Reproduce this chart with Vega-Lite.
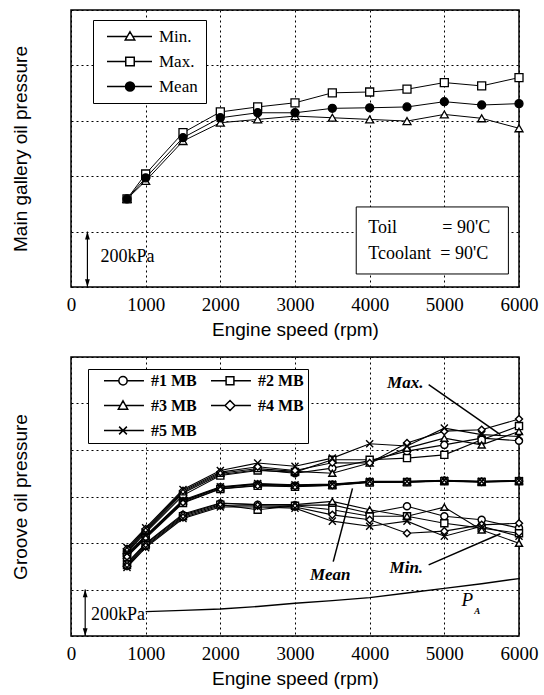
{
  "$schema": "https://vega.github.io/schema/vega-lite/v6.json",
  "padding": {"left": 10, "top": 9, "right": 3, "bottom": 3},
  "background": "white",
  "spacing": 16,
  "config": {
    "view": {"stroke": "black", "strokeWidth": 1.5},
    "axis": {"grid": true, "gridColor": "black", "gridDash": [2, 3], "gridWidth": 1, "gridOpacity": 1, "domain": false, "ticks": false, "labelColor": "black", "titleColor": "black", "titleFont": "Liberation Sans", "titleFontSize": 19, "titleFontWeight": "normal", "labelFont": "Liberation Serif", "labelFontSize": 19},
    "axisX": {"labelPadding": 8, "titlePadding": 6, "labelFlush": false, "labelOverlap": false, "format": "d"},
    "axisY": {"labels": false, "titlePadding": 41}
  },
  "datasets": {
    "top": [
      {"stat": "Min.", "rpm": 750, "p": 318}, {"stat": "Min.", "rpm": 1000, "p": 383}, {"stat": "Min.", "rpm": 1500, "p": 527}, {"stat": "Min.", "rpm": 2000, "p": 593}, {"stat": "Min.", "rpm": 2500, "p": 605}, {"stat": "Min.", "rpm": 3000, "p": 617}, {"stat": "Min.", "rpm": 3500, "p": 611}, {"stat": "Min.", "rpm": 4000, "p": 605}, {"stat": "Min.", "rpm": 4500, "p": 599}, {"stat": "Min.", "rpm": 5000, "p": 623}, {"stat": "Min.", "rpm": 5500, "p": 609}, {"stat": "Min.", "rpm": 6000, "p": 573},
      {"stat": "Max.", "rpm": 750, "p": 318}, {"stat": "Max.", "rpm": 1000, "p": 408}, {"stat": "Max.", "rpm": 1500, "p": 557}, {"stat": "Max.", "rpm": 2000, "p": 632}, {"stat": "Max.", "rpm": 2500, "p": 650}, {"stat": "Max.", "rpm": 3000, "p": 665}, {"stat": "Max.", "rpm": 3500, "p": 701}, {"stat": "Max.", "rpm": 4000, "p": 704}, {"stat": "Max.", "rpm": 4500, "p": 714}, {"stat": "Max.", "rpm": 5000, "p": 738}, {"stat": "Max.", "rpm": 5500, "p": 726}, {"stat": "Max.", "rpm": 6000, "p": 756},
      {"stat": "Mean", "rpm": 750, "p": 318}, {"stat": "Mean", "rpm": 1000, "p": 394}, {"stat": "Mean", "rpm": 1500, "p": 539}, {"stat": "Mean", "rpm": 2000, "p": 611}, {"stat": "Mean", "rpm": 2500, "p": 629}, {"stat": "Mean", "rpm": 3000, "p": 629}, {"stat": "Mean", "rpm": 3500, "p": 645}, {"stat": "Mean", "rpm": 4000, "p": 647}, {"stat": "Mean", "rpm": 4500, "p": 650}, {"stat": "Mean", "rpm": 5000, "p": 669}, {"stat": "Mean", "rpm": 5500, "p": 657}, {"stat": "Mean", "rpm": 6000, "p": 662}
    ],
    "bot": [
      {"mb": "#1 MB", "stat": "Max", "rpm": 750, "p": 365}, {"mb": "#1 MB", "stat": "Max", "rpm": 1000, "p": 450}, {"mb": "#1 MB", "stat": "Max", "rpm": 1500, "p": 615}, {"mb": "#1 MB", "stat": "Max", "rpm": 2000, "p": 695}, {"mb": "#1 MB", "stat": "Max", "rpm": 2500, "p": 715}, {"mb": "#1 MB", "stat": "Max", "rpm": 3000, "p": 700}, {"mb": "#1 MB", "stat": "Max", "rpm": 3500, "p": 722}, {"mb": "#1 MB", "stat": "Max", "rpm": 4000, "p": 755}, {"mb": "#1 MB", "stat": "Max", "rpm": 4500, "p": 795}, {"mb": "#1 MB", "stat": "Max", "rpm": 5000, "p": 822}, {"mb": "#1 MB", "stat": "Max", "rpm": 5500, "p": 851}, {"mb": "#1 MB", "stat": "Max", "rpm": 6000, "p": 840},
      {"mb": "#2 MB", "stat": "Max", "rpm": 750, "p": 360}, {"mb": "#2 MB", "stat": "Max", "rpm": 1000, "p": 445}, {"mb": "#2 MB", "stat": "Max", "rpm": 1500, "p": 605}, {"mb": "#2 MB", "stat": "Max", "rpm": 2000, "p": 690}, {"mb": "#2 MB", "stat": "Max", "rpm": 2500, "p": 712}, {"mb": "#2 MB", "stat": "Max", "rpm": 3000, "p": 705}, {"mb": "#2 MB", "stat": "Max", "rpm": 3500, "p": 758}, {"mb": "#2 MB", "stat": "Max", "rpm": 4000, "p": 758}, {"mb": "#2 MB", "stat": "Max", "rpm": 4500, "p": 765}, {"mb": "#2 MB", "stat": "Max", "rpm": 5000, "p": 779}, {"mb": "#2 MB", "stat": "Max", "rpm": 5500, "p": 844}, {"mb": "#2 MB", "stat": "Max", "rpm": 6000, "p": 903},
      {"mb": "#3 MB", "stat": "Max", "rpm": 750, "p": 370}, {"mb": "#3 MB", "stat": "Max", "rpm": 1000, "p": 455}, {"mb": "#3 MB", "stat": "Max", "rpm": 1500, "p": 620}, {"mb": "#3 MB", "stat": "Max", "rpm": 2000, "p": 700}, {"mb": "#3 MB", "stat": "Max", "rpm": 2500, "p": 720}, {"mb": "#3 MB", "stat": "Max", "rpm": 3000, "p": 708}, {"mb": "#3 MB", "stat": "Max", "rpm": 3500, "p": 700}, {"mb": "#3 MB", "stat": "Max", "rpm": 4000, "p": 744}, {"mb": "#3 MB", "stat": "Max", "rpm": 4500, "p": 808}, {"mb": "#3 MB", "stat": "Max", "rpm": 5000, "p": 851}, {"mb": "#3 MB", "stat": "Max", "rpm": 5500, "p": 822}, {"mb": "#3 MB", "stat": "Max", "rpm": 6000, "p": 880},
      {"mb": "#4 MB", "stat": "Max", "rpm": 750, "p": 375}, {"mb": "#4 MB", "stat": "Max", "rpm": 1000, "p": 460}, {"mb": "#4 MB", "stat": "Max", "rpm": 1500, "p": 625}, {"mb": "#4 MB", "stat": "Max", "rpm": 2000, "p": 705}, {"mb": "#4 MB", "stat": "Max", "rpm": 2500, "p": 728}, {"mb": "#4 MB", "stat": "Max", "rpm": 3000, "p": 712}, {"mb": "#4 MB", "stat": "Max", "rpm": 3500, "p": 745}, {"mb": "#4 MB", "stat": "Max", "rpm": 4000, "p": 744}, {"mb": "#4 MB", "stat": "Max", "rpm": 4500, "p": 830}, {"mb": "#4 MB", "stat": "Max", "rpm": 5000, "p": 881}, {"mb": "#4 MB", "stat": "Max", "rpm": 5500, "p": 887}, {"mb": "#4 MB", "stat": "Max", "rpm": 6000, "p": 933},
      {"mb": "#5 MB", "stat": "Max", "rpm": 750, "p": 380}, {"mb": "#5 MB", "stat": "Max", "rpm": 1000, "p": 465}, {"mb": "#5 MB", "stat": "Max", "rpm": 1500, "p": 630}, {"mb": "#5 MB", "stat": "Max", "rpm": 2000, "p": 712}, {"mb": "#5 MB", "stat": "Max", "rpm": 2500, "p": 744}, {"mb": "#5 MB", "stat": "Max", "rpm": 3000, "p": 730}, {"mb": "#5 MB", "stat": "Max", "rpm": 3500, "p": 765}, {"mb": "#5 MB", "stat": "Max", "rpm": 4000, "p": 827}, {"mb": "#5 MB", "stat": "Max", "rpm": 4500, "p": 817}, {"mb": "#5 MB", "stat": "Max", "rpm": 5000, "p": 894}, {"mb": "#5 MB", "stat": "Max", "rpm": 5500, "p": 866}, {"mb": "#5 MB", "stat": "Max", "rpm": 6000, "p": 858},
      {"mb": "#1 MB", "stat": "Mean", "rpm": 750, "p": 350}, {"mb": "#1 MB", "stat": "Mean", "rpm": 1000, "p": 428}, {"mb": "#1 MB", "stat": "Mean", "rpm": 1500, "p": 580}, {"mb": "#1 MB", "stat": "Mean", "rpm": 2000, "p": 640}, {"mb": "#1 MB", "stat": "Mean", "rpm": 2500, "p": 652}, {"mb": "#1 MB", "stat": "Mean", "rpm": 3000, "p": 646}, {"mb": "#1 MB", "stat": "Mean", "rpm": 3500, "p": 652}, {"mb": "#1 MB", "stat": "Mean", "rpm": 4000, "p": 663}, {"mb": "#1 MB", "stat": "Mean", "rpm": 4500, "p": 664}, {"mb": "#1 MB", "stat": "Mean", "rpm": 5000, "p": 669}, {"mb": "#1 MB", "stat": "Mean", "rpm": 5500, "p": 664}, {"mb": "#1 MB", "stat": "Mean", "rpm": 6000, "p": 668},
      {"mb": "#2 MB", "stat": "Mean", "rpm": 750, "p": 340}, {"mb": "#2 MB", "stat": "Mean", "rpm": 1000, "p": 420}, {"mb": "#2 MB", "stat": "Mean", "rpm": 1500, "p": 572}, {"mb": "#2 MB", "stat": "Mean", "rpm": 2000, "p": 632}, {"mb": "#2 MB", "stat": "Mean", "rpm": 2500, "p": 646}, {"mb": "#2 MB", "stat": "Mean", "rpm": 3000, "p": 642}, {"mb": "#2 MB", "stat": "Mean", "rpm": 3500, "p": 648}, {"mb": "#2 MB", "stat": "Mean", "rpm": 4000, "p": 660}, {"mb": "#2 MB", "stat": "Mean", "rpm": 4500, "p": 661}, {"mb": "#2 MB", "stat": "Mean", "rpm": 5000, "p": 666}, {"mb": "#2 MB", "stat": "Mean", "rpm": 5500, "p": 662}, {"mb": "#2 MB", "stat": "Mean", "rpm": 6000, "p": 666},
      {"mb": "#3 MB", "stat": "Mean", "rpm": 750, "p": 348}, {"mb": "#3 MB", "stat": "Mean", "rpm": 1000, "p": 426}, {"mb": "#3 MB", "stat": "Mean", "rpm": 1500, "p": 582}, {"mb": "#3 MB", "stat": "Mean", "rpm": 2000, "p": 638}, {"mb": "#3 MB", "stat": "Mean", "rpm": 2500, "p": 654}, {"mb": "#3 MB", "stat": "Mean", "rpm": 3000, "p": 648}, {"mb": "#3 MB", "stat": "Mean", "rpm": 3500, "p": 650}, {"mb": "#3 MB", "stat": "Mean", "rpm": 4000, "p": 664}, {"mb": "#3 MB", "stat": "Mean", "rpm": 4500, "p": 662}, {"mb": "#3 MB", "stat": "Mean", "rpm": 5000, "p": 668}, {"mb": "#3 MB", "stat": "Mean", "rpm": 5500, "p": 664}, {"mb": "#3 MB", "stat": "Mean", "rpm": 6000, "p": 668},
      {"mb": "#4 MB", "stat": "Mean", "rpm": 750, "p": 342}, {"mb": "#4 MB", "stat": "Mean", "rpm": 1000, "p": 424}, {"mb": "#4 MB", "stat": "Mean", "rpm": 1500, "p": 575}, {"mb": "#4 MB", "stat": "Mean", "rpm": 2000, "p": 634}, {"mb": "#4 MB", "stat": "Mean", "rpm": 2500, "p": 648}, {"mb": "#4 MB", "stat": "Mean", "rpm": 3000, "p": 644}, {"mb": "#4 MB", "stat": "Mean", "rpm": 3500, "p": 649}, {"mb": "#4 MB", "stat": "Mean", "rpm": 4000, "p": 661}, {"mb": "#4 MB", "stat": "Mean", "rpm": 4500, "p": 663}, {"mb": "#4 MB", "stat": "Mean", "rpm": 5000, "p": 667}, {"mb": "#4 MB", "stat": "Mean", "rpm": 5500, "p": 663}, {"mb": "#4 MB", "stat": "Mean", "rpm": 6000, "p": 666},
      {"mb": "#5 MB", "stat": "Mean", "rpm": 750, "p": 355}, {"mb": "#5 MB", "stat": "Mean", "rpm": 1000, "p": 432}, {"mb": "#5 MB", "stat": "Mean", "rpm": 1500, "p": 585}, {"mb": "#5 MB", "stat": "Mean", "rpm": 2000, "p": 642}, {"mb": "#5 MB", "stat": "Mean", "rpm": 2500, "p": 656}, {"mb": "#5 MB", "stat": "Mean", "rpm": 3000, "p": 650}, {"mb": "#5 MB", "stat": "Mean", "rpm": 3500, "p": 654}, {"mb": "#5 MB", "stat": "Mean", "rpm": 4000, "p": 665}, {"mb": "#5 MB", "stat": "Mean", "rpm": 4500, "p": 665}, {"mb": "#5 MB", "stat": "Mean", "rpm": 5000, "p": 670}, {"mb": "#5 MB", "stat": "Mean", "rpm": 5500, "p": 665}, {"mb": "#5 MB", "stat": "Mean", "rpm": 6000, "p": 669},
      {"mb": "#1 MB", "stat": "Min", "rpm": 750, "p": 310}, {"mb": "#1 MB", "stat": "Min", "rpm": 1000, "p": 395}, {"mb": "#1 MB", "stat": "Min", "rpm": 1500, "p": 520}, {"mb": "#1 MB", "stat": "Min", "rpm": 2000, "p": 570}, {"mb": "#1 MB", "stat": "Min", "rpm": 2500, "p": 565}, {"mb": "#1 MB", "stat": "Min", "rpm": 3000, "p": 562}, {"mb": "#1 MB", "stat": "Min", "rpm": 3500, "p": 564}, {"mb": "#1 MB", "stat": "Min", "rpm": 4000, "p": 528}, {"mb": "#1 MB", "stat": "Min", "rpm": 4500, "p": 558}, {"mb": "#1 MB", "stat": "Min", "rpm": 5000, "p": 515}, {"mb": "#1 MB", "stat": "Min", "rpm": 5500, "p": 500}, {"mb": "#1 MB", "stat": "Min", "rpm": 6000, "p": 464},
      {"mb": "#2 MB", "stat": "Min", "rpm": 750, "p": 305}, {"mb": "#2 MB", "stat": "Min", "rpm": 1000, "p": 390}, {"mb": "#2 MB", "stat": "Min", "rpm": 1500, "p": 515}, {"mb": "#2 MB", "stat": "Min", "rpm": 2000, "p": 565}, {"mb": "#2 MB", "stat": "Min", "rpm": 2500, "p": 543}, {"mb": "#2 MB", "stat": "Min", "rpm": 3000, "p": 560}, {"mb": "#2 MB", "stat": "Min", "rpm": 3500, "p": 543}, {"mb": "#2 MB", "stat": "Min", "rpm": 4000, "p": 515}, {"mb": "#2 MB", "stat": "Min", "rpm": 4500, "p": 515}, {"mb": "#2 MB", "stat": "Min", "rpm": 5000, "p": 485}, {"mb": "#2 MB", "stat": "Min", "rpm": 5500, "p": 464}, {"mb": "#2 MB", "stat": "Min", "rpm": 6000, "p": 442},
      {"mb": "#3 MB", "stat": "Min", "rpm": 750, "p": 315}, {"mb": "#3 MB", "stat": "Min", "rpm": 1000, "p": 398}, {"mb": "#3 MB", "stat": "Min", "rpm": 1500, "p": 525}, {"mb": "#3 MB", "stat": "Min", "rpm": 2000, "p": 572}, {"mb": "#3 MB", "stat": "Min", "rpm": 2500, "p": 565}, {"mb": "#3 MB", "stat": "Min", "rpm": 3000, "p": 565}, {"mb": "#3 MB", "stat": "Min", "rpm": 3500, "p": 579}, {"mb": "#3 MB", "stat": "Min", "rpm": 4000, "p": 543}, {"mb": "#3 MB", "stat": "Min", "rpm": 4500, "p": 515}, {"mb": "#3 MB", "stat": "Min", "rpm": 5000, "p": 554}, {"mb": "#3 MB", "stat": "Min", "rpm": 5500, "p": 456}, {"mb": "#3 MB", "stat": "Min", "rpm": 6000, "p": 399},
      {"mb": "#4 MB", "stat": "Min", "rpm": 750, "p": 300}, {"mb": "#4 MB", "stat": "Min", "rpm": 1000, "p": 385}, {"mb": "#4 MB", "stat": "Min", "rpm": 1500, "p": 510}, {"mb": "#4 MB", "stat": "Min", "rpm": 2000, "p": 560}, {"mb": "#4 MB", "stat": "Min", "rpm": 2500, "p": 560}, {"mb": "#4 MB", "stat": "Min", "rpm": 3000, "p": 555}, {"mb": "#4 MB", "stat": "Min", "rpm": 3500, "p": 521}, {"mb": "#4 MB", "stat": "Min", "rpm": 4000, "p": 500}, {"mb": "#4 MB", "stat": "Min", "rpm": 4500, "p": 442}, {"mb": "#4 MB", "stat": "Min", "rpm": 5000, "p": 451}, {"mb": "#4 MB", "stat": "Min", "rpm": 5500, "p": 478}, {"mb": "#4 MB", "stat": "Min", "rpm": 6000, "p": 485},
      {"mb": "#5 MB", "stat": "Min", "rpm": 750, "p": 295}, {"mb": "#5 MB", "stat": "Min", "rpm": 1000, "p": 380}, {"mb": "#5 MB", "stat": "Min", "rpm": 1500, "p": 505}, {"mb": "#5 MB", "stat": "Min", "rpm": 2000, "p": 555}, {"mb": "#5 MB", "stat": "Min", "rpm": 2500, "p": 555}, {"mb": "#5 MB", "stat": "Min", "rpm": 3000, "p": 550}, {"mb": "#5 MB", "stat": "Min", "rpm": 3500, "p": 494}, {"mb": "#5 MB", "stat": "Min", "rpm": 4000, "p": 472}, {"mb": "#5 MB", "stat": "Min", "rpm": 4500, "p": 494}, {"mb": "#5 MB", "stat": "Min", "rpm": 5000, "p": 429}, {"mb": "#5 MB", "stat": "Min", "rpm": 5500, "p": 472}, {"mb": "#5 MB", "stat": "Min", "rpm": 6000, "p": 429}
    ],
    "arrowTop": [{"rpm": 220, "p": 0, "p2": 200}],
    "arrowBot": [{"rpm": 190, "p": 0, "p2": 200}],
    "kpaTop": [{"rpm": 757, "p": 108, "label": "200kPa"}],
    "kpaBot": [{"rpm": 630, "p": 89, "label": "200kPa"}],
    "boxTop": [{"rpm": 3820, "rpm2": 5858, "p": 47, "p2": 289}],
    "boxText": [
      {"rpm": 3981, "p": 214, "label": "Toil"}, {"rpm": 4973, "p": 214, "label": "= 90'C"},
      {"rpm": 3981, "p": 118, "label": "Tcoolant"}, {"rpm": 4946, "p": 118, "label": "= 90'C"}
    ],
    "pa": [
      {"rpm": 1000, "p": 105}, {"rpm": 1500, "p": 110}, {"rpm": 2000, "p": 116}, {"rpm": 2500, "p": 127}, {"rpm": 3000, "p": 141}, {"rpm": 3500, "p": 152}, {"rpm": 4000, "p": 165}, {"rpm": 4500, "p": 185}, {"rpm": 5000, "p": 205}, {"rpm": 5500, "p": 225}, {"rpm": 6000, "p": 247}
    ],
    "paP": [{"rpm": 5308, "p": 155, "label": "P"}],
    "paA": [{"rpm": 5442, "p": 106, "label": "A"}],
    "notes": [
      {"rpm": 4477, "p": 1088, "label": "Max."}, {"rpm": 3472, "p": 263, "label": "Mean"}, {"rpm": 4491, "p": 292, "label": "Min."}
    ],
    "pointers": [
      {"rpm": 4790, "p": 1081, "rpm2": 5751, "p2": 866},
      {"rpm": 3512, "p": 320, "rpm2": 3770, "p2": 635},
      {"rpm": 4790, "p": 306, "rpm2": 5751, "p2": 440}
    ]
  },
  "vconcat": [
    {
      "width": 448,
      "height": 277,
      "encoding": {
        "x": {"field": "rpm", "type": "quantitative", "scale": {"domain": [0, 6000]}, "axis": {"values": [0, 1000, 2000, 3000, 4000, 5000, 6000]}, "title": "Engine speed (rpm)"},
        "y": {"field": "p", "type": "quantitative", "scale": {"domain": [0, 1000]}, "axis": {"values": [0, 200, 400, 600, 800, 1000]}, "title": "Main gallery oil pressure"}
      },
      "resolve": {"scale": {"shape": "independent", "fill": "independent"}},
      "layer": [
        {"data": {"name": "arrowTop"}, "mark": {"type": "rule", "color": "black", "strokeWidth": 1.2}, "encoding": {"y2": {"field": "p2"}}},
        {"data": {"name": "arrowTop"}, "mark": {"type": "point", "shape": "M0,0L-0.8,2.6L0.8,2.6Z", "filled": true, "color": "black", "size": 36, "opacity": 1}, "encoding": {"y": {"field": "p2", "type": "quantitative"}}},
        {"data": {"name": "arrowTop"}, "mark": {"type": "point", "shape": "M0,0L-0.8,-2.6L0.8,-2.6Z", "filled": true, "color": "black", "size": 36, "opacity": 1}},
        {"data": {"name": "kpaTop"}, "mark": {"type": "text", "font": "Liberation Serif", "fontSize": 18, "color": "black"}, "encoding": {"text": {"field": "label"}}},
        {"data": {"name": "boxTop"}, "mark": {"type": "rect", "fill": "white", "stroke": "black", "strokeWidth": 1}, "encoding": {"x2": {"field": "rpm2"}, "y2": {"field": "p2"}}},
        {"data": {"name": "boxText"}, "mark": {"type": "text", "align": "left", "font": "Liberation Serif", "fontSize": 18, "color": "black"}, "encoding": {"text": {"field": "label"}}},
        {"data": {"name": "top"}, "mark": {"type": "line", "color": "black", "strokeWidth": 1}, "encoding": {"detail": {"field": "stat"}}},
        {"data": {"name": "top"}, "mark": {"type": "point", "stroke": "black", "strokeWidth": 1.3, "size": 64, "opacity": 1},
          "encoding": {
            "shape": {"field": "stat", "scale": {"domain": ["Min.", "Max.", "Mean"], "range": ["triangle-up", "square", "circle"]}, "legend": null},
            "fill": {"field": "stat", "scale": {"domain": ["Min.", "Max.", "Mean"], "range": ["white", "white", "black"]}, "legend": null}
          }},
        {"data": {"name": "top"}, "mark": {"type": "point", "filled": false, "stroke": "black", "strokeWidth": 1.2, "opacity": 0},
          "encoding": {
            "shape": {"field": "stat", "scale": {"domain": ["Min.", "Max.", "Mean"], "range": [
              "M-0.8,0H0.01M0.23,0H1M0.12,-0.19L0.31,0.14L-0.07,0.14Z",
              "M-0.8,0H-0.05M0.29,0H1M-0.05,-0.17H0.29V0.17H-0.05Z",
              "M-0.8,0H1M0.3,0A0.18,0.18 0 1,0 -0.06,0A0.18,0.18 0 1,0 0.3,0M0.26,0A0.14,0.14 0 1,0 -0.02,0A0.14,0.14 0 1,0 0.26,0M0.22,0A0.1,0.1 0 1,0 0.02,0A0.1,0.1 0 1,0 0.22,0M0.18,0A0.06,0.06 0 1,0 0.06,0A0.06,0.06 0 1,0 0.18,0M0.14,0A0.02,0.02 0 1,0 0.1,0A0.02,0.02 0 1,0 0.14,0"
            ]},
              "legend": {"title": null, "orient": "none", "legendX": 22, "legendY": 10, "strokeColor": "black", "fillColor": "white", "padding": 8, "symbolSize": 2500, "clipHeight": 17, "rowPadding": 7, "labelFont": "Liberation Serif", "labelFontSize": 17, "labelOffset": 6, "labelColor": "black", "symbolOpacity": 1}}
          }}
      ]
    },
    {
      "width": 448,
      "height": 279,
      "encoding": {
        "x": {"field": "rpm", "type": "quantitative", "scale": {"domain": [0, 6000]}, "axis": {"values": [0, 1000, 2000, 3000, 4000, 5000, 6000]}, "title": "Engine speed (rpm)"},
        "y": {"field": "p", "type": "quantitative", "scale": {"domain": [0, 1200]}, "axis": {"values": [0, 200, 400, 600, 800, 1000, 1200]}, "title": "Groove oil pressure"}
      },
      "resolve": {"scale": {"shape": "independent"}},
      "layer": [
        {"data": {"name": "arrowBot"}, "mark": {"type": "rule", "color": "black", "strokeWidth": 1.2}, "encoding": {"y2": {"field": "p2"}}},
        {"data": {"name": "arrowBot"}, "mark": {"type": "point", "shape": "M0,0L-0.8,2.6L0.8,2.6Z", "filled": true, "color": "black", "size": 36, "opacity": 1}, "encoding": {"y": {"field": "p2", "type": "quantitative"}}},
        {"data": {"name": "arrowBot"}, "mark": {"type": "point", "shape": "M0,0L-0.8,-2.6L0.8,-2.6Z", "filled": true, "color": "black", "size": 36, "opacity": 1}},
        {"data": {"name": "pa"}, "mark": {"type": "line", "color": "black", "strokeWidth": 1.4}, "encoding": {}},
        {"data": {"name": "kpaBot"}, "mark": {"type": "text", "font": "Liberation Serif", "fontSize": 18, "color": "black"}, "encoding": {"text": {"field": "label"}}},
        {"data": {"name": "paP"}, "mark": {"type": "text", "font": "Liberation Serif", "fontStyle": "italic", "fontSize": 19, "color": "black"}, "encoding": {"text": {"field": "label"}}},
        {"data": {"name": "paA"}, "mark": {"type": "text", "font": "Liberation Serif", "fontStyle": "italic", "fontWeight": "bold", "fontSize": 9, "color": "black"}, "encoding": {"text": {"field": "label"}}},
        {"data": {"name": "bot"}, "mark": {"type": "line", "color": "black", "strokeWidth": 1.1}, "encoding": {"detail": [{"field": "mb"}, {"field": "stat"}]}},
        {"data": {"name": "bot"}, "mark": {"type": "point", "stroke": "black", "fill": "white", "filled": true, "strokeWidth": 1.4, "size": 50, "opacity": 1},
          "encoding": {
            "shape": {"field": "mb", "scale": {"domain": ["#1 MB", "#2 MB", "#3 MB", "#4 MB", "#5 MB"], "range": ["circle", "square", "triangle-up", "diamond", "M-1,-1L1,1M-1,1L1,-1"]}, "legend": null}
          }},
        {"data": {"name": "bot"}, "mark": {"type": "point", "filled": false, "stroke": "black", "strokeWidth": 1.3, "opacity": 0},
          "encoding": {
            "shape": {"field": "mb", "scale": {"domain": ["#1 MB", "#3 MB", "#5 MB", "#2 MB", "#4 MB"], "range": [
              "M-0.577,0H-0.006M0.314,0H0.96M0.314,0A0.16,0.16 0 1,0 -0.006,0A0.16,0.16 0 1,0 0.314,0",
              "M-0.577,0H0.053M0.255,0H0.96M0.154,-0.18L0.334,0.14L-0.026,0.14Z",
              "M-0.577,0H0.96M0.004,-0.15L0.304,0.15M0.004,0.15L0.304,-0.15",
              "M-0.577,0H0.004M0.304,0H0.96M0.004,-0.15H0.304V0.15H0.004Z",
              "M-0.577,0H-0.036M0.344,0H0.96M0.154,-0.19L0.344,0L0.154,0.19L-0.036,0Z"
            ]},
              "legend": {"title": null, "orient": "none", "legendX": 17, "legendY": 12, "columns": 2, "columnPadding": 2, "strokeColor": "black", "fillColor": "white", "padding": 4, "symbolSize": 2704, "clipHeight": 15, "rowPadding": 8, "labelFont": "Liberation Serif", "labelFontSize": 16, "labelFontWeight": "bold", "labelOffset": 5, "labelColor": "black", "symbolOpacity": 1}}
          }},
        {"data": {"name": "pointers"}, "mark": {"type": "rule", "color": "black", "strokeWidth": 1.5}, "encoding": {"x2": {"field": "rpm2"}, "y2": {"field": "p2"}}},
        {"data": {"name": "notes"}, "mark": {"type": "text", "font": "Liberation Serif", "fontStyle": "italic", "fontWeight": "bold", "fontSize": 17, "color": "black"}, "encoding": {"text": {"field": "label"}}}
      ]
    }
  ]
}
